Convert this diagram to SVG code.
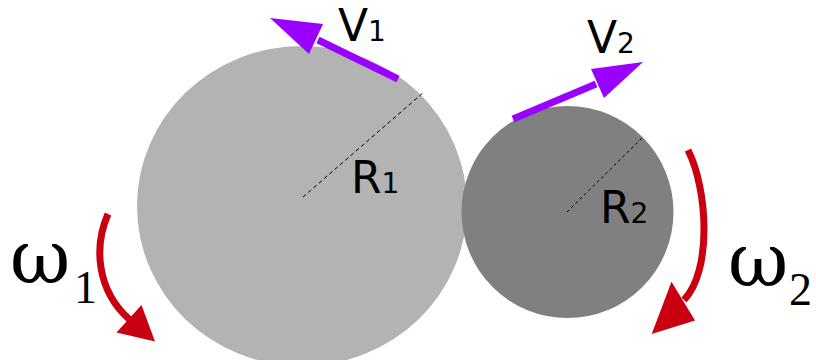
<svg xmlns="http://www.w3.org/2000/svg" width="816" height="360" viewBox="0 0 816 360">
<style>
.lbl{font-family:"DejaVu Sans",sans-serif;font-size:44px;fill:#000}
.sub{font-size:28px}
.om{font-family:"DejaVu Serif",serif;font-size:74px;fill:#000}
.osub{font-family:"Liberation Serif",serif;font-size:46px}
.rad{stroke:#000;stroke-width:1;fill:none}
.vel{stroke:#9900ff;stroke-width:7;fill:none}
.velhead{fill:#9900ff}
.rot{stroke:#c8000f;stroke-width:7;fill:none}
.rothead{fill:#c8000f}
</style>
<rect width="816" height="360" fill="#fff"/>
<g id="wheel1">
<ellipse cx="302" cy="206" rx="165" ry="160" fill="#b3b3b3"/>
<line class="rad" x1="303" y1="197" x2="424" y2="92" stroke-dasharray="4,3"/>
<text class="lbl" x="351" y="193">R<tspan class="sub">1</tspan></text>
</g>
<g id="wheel2">
<circle cx="567.5" cy="212" r="106" fill="#808080"/>
<line class="rad" x1="567" y1="212" x2="643" y2="137" stroke-dasharray="3,3"/>
<text class="lbl" x="600" y="223">R<tspan class="sub">2</tspan></text>
</g>
<g id="v1">
<line class="vel" x1="398" y1="79" x2="318" y2="40"/>
<polygon class="velhead" points="270,18 323,24 309,54"/>
<text class="lbl" x="338" y="41">V<tspan class="sub">1</tspan></text>
</g>
<g id="v2">
<line class="vel" x1="513" y1="119" x2="596" y2="84"/>
<polygon class="velhead" points="643,62 591,69 604,98"/>
<text class="lbl" x="587" y="53">V<tspan class="sub">2</tspan></text>
</g>
<g id="omega1">
<path class="rot" d="M108,214 C94,246 96,290 130,320"/>
<polygon class="rothead" points="155,341.5 116.5,332.5 141.5,305"/>
<text class="om" x="10" y="283">ω<tspan class="osub" x="74" y="303">1</tspan></text>
</g>
<g id="omega2">
<path class="rot" d="M688,150 C708,190 712,271 684,300"/>
<polygon class="rothead" points="651.7,334 671.5,281.7 695,320.5"/>
<text class="om" x="728" y="286">ω<tspan class="osub" x="789" y="305">2</tspan></text>
</g>
</svg>
